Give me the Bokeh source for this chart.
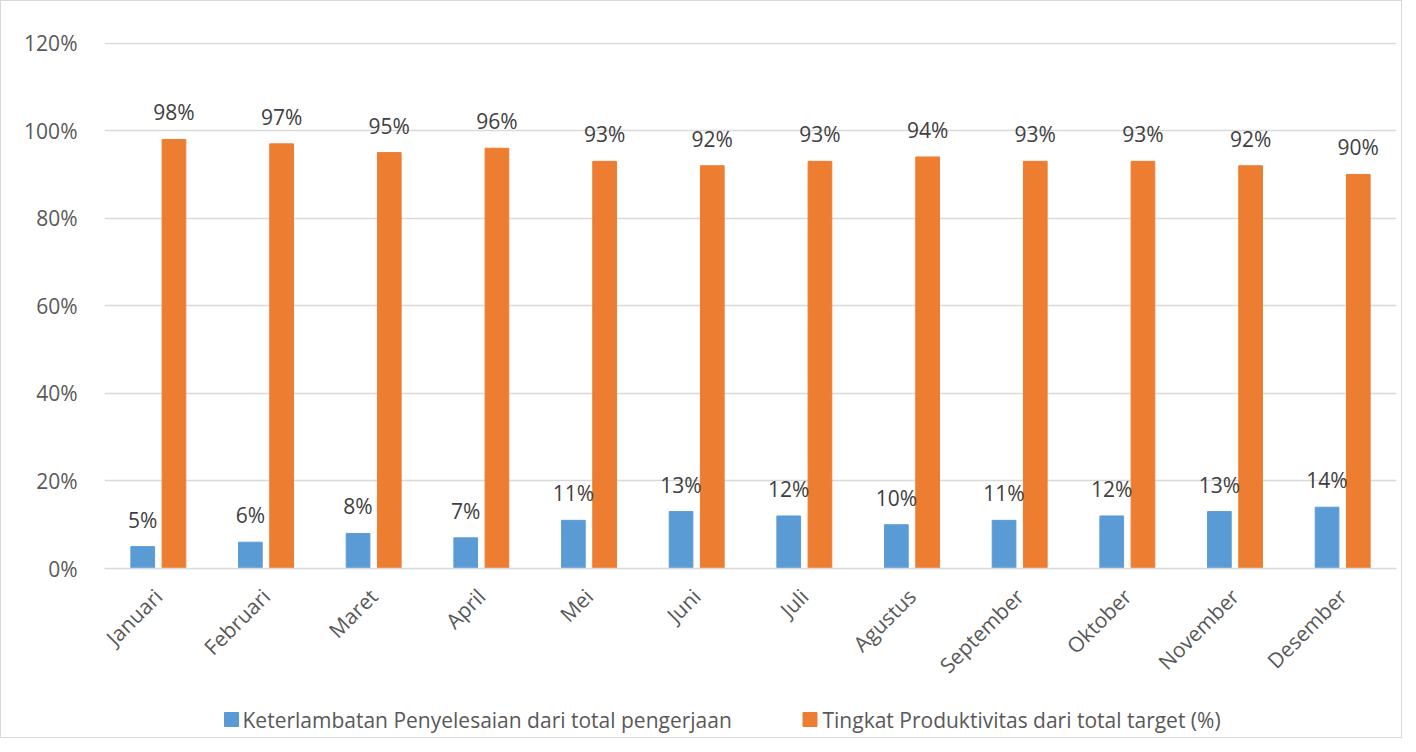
import math
from bokeh.plotting import figure
from bokeh.layouts import column
from bokeh.models import (ColumnDataSource, Range1d, FactorRange, NumeralTickFormatter,
                          LabelSet)
from bokeh.transform import dodge
from bokeh.core.properties import value
from bokeh.embed import file_html
from bokeh.resources import INLINE

months = ["Januari", "Februari", "Maret", "April", "Mei", "Juni", "Juli",
          "Agustus", "September", "Oktober", "November", "Desember"]
keterlambatan = [5, 6, 8, 7, 11, 13, 12, 10, 11, 12, 13, 14]
produktivitas = [98, 97, 95, 96, 93, 92, 93, 94, 93, 93, 92, 90]
series_names = ["Keterlambatan Penyelesaian dari total pengerjaan",
                "Tingkat Produktivitas dari total target (%)"]

FONT = "Open Sans"
BLUE = "#5B9BD5"
ORANGE = "#ED7D31"

src = ColumnDataSource(dict(
    month=months,
    k=[v / 100 for v in keterlambatan],
    p=[v / 100 for v in produktivitas],
    kl=[f"{v}%" for v in keterlambatan],
    pl=[f"{v}%" for v in produktivitas],
))

p = figure(x_range=FactorRange(*months), y_range=Range1d(0, 1.2015),
           width=1400, height=700, output_backend="svg", toolbar_location=None,
           min_border_left=103, min_border_right=5, min_border_top=41,
           min_border_bottom=133)

off = 0.145
w = 0.22
rb = p.vbar(x=dodge("month", -off, range=p.x_range), top="k", width=w, source=src,
            fill_color=BLUE, line_color=BLUE)
ro = p.vbar(x=dodge("month", off, range=p.x_range), top="p", width=w, source=src,
            fill_color=ORANGE, line_color=ORANGE)

for col, lab, dx in (("k", "kl", -off), ("p", "pl", off)):
    ls = LabelSet(x=dodge("month", dx, range=p.x_range), y=col, text=lab, source=src,
                  y_offset=13, text_align="center", text_baseline="bottom",
                  text_font=value(FONT), text_font_size="21px", text_color="#404040")
    p.add_layout(ls)

p.yaxis.ticker = [0, 0.2, 0.4, 0.6, 0.8, 1.0, 1.2]
p.yaxis.formatter = NumeralTickFormatter(format="0%")
p.yaxis.axis_line_color = None
p.yaxis.major_tick_line_color = None
p.yaxis.minor_tick_line_color = None
p.yaxis.major_label_standoff = 21
p.xaxis.axis_line_color = "#D9D9D9"
p.xaxis.axis_line_width = 1.5
p.xaxis.major_tick_line_color = None
p.xaxis.minor_tick_line_color = None
p.xaxis.major_label_orientation = math.pi / 4
p.xaxis.major_label_standoff = 18
for ax in (p.xaxis, p.yaxis):
    ax.major_label_text_font = FONT
    ax.major_label_text_font_size = "21px"
    ax.major_label_text_color = "#595959"

p.xgrid.grid_line_color = None
p.ygrid.grid_line_color = "#D9D9D9"
p.ygrid.grid_line_width = 1.5
p.outline_line_color = None

# legend strip below the chart; its frame is aligned with the chart's frame,
# so the x range is expressed in page pixels (frame spans 103..1395)
lg = figure(width=1400, height=36, x_range=Range1d(103, 1395), y_range=Range1d(0, 36),
            output_backend="svg", toolbar_location=None,
            min_border_left=103, min_border_right=5, min_border_top=0, min_border_bottom=0)
lg.axis.visible = False
lg.grid.visible = False
lg.outline_line_color = None
leg = ColumnDataSource(dict(sx=[230, 808.5], tx=[241, 821], y=[18, 18],
                            color=[BLUE, ORANGE], name=series_names))
lg.rect(x="sx", y="y", width=14, height=14, fill_color="color", line_color="color",
        source=leg)
lg.text(x="tx", y="y", text="name", source=leg, text_font=value(FONT),
        text_font_size="21px", text_color="#595959", text_align="left",
        text_baseline="middle")

layout = column(p, lg, spacing=0)
layout.styles = {"border": "1px solid #D9D9D9"}

open("out.html", "w").write(file_html(layout, INLINE))
